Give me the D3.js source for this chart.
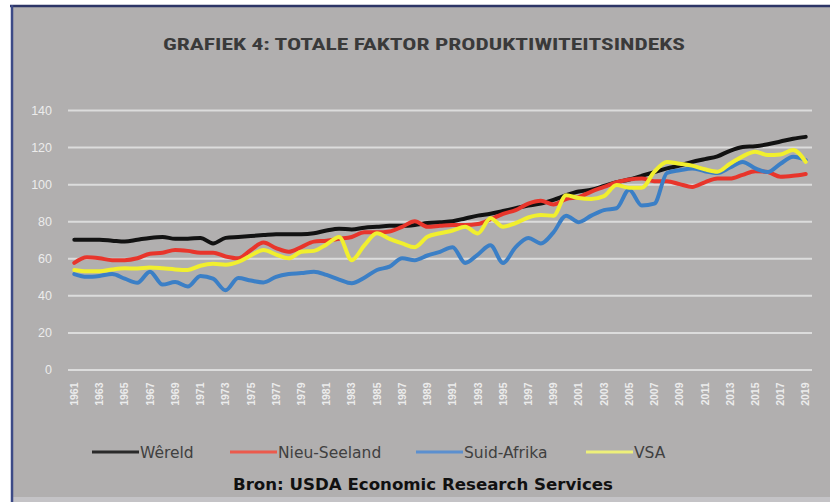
<!DOCTYPE html>
<html>
<head>
<meta charset="utf-8">
<script src="https://cdn.jsdelivr.net/npm/d3@7/dist/d3.min.js"></script>
<style>
  html, body { margin: 0; padding: 0; background: #ffffff; }
  svg { display: block; }
</style>
</head>
<body>
<svg id="chart" width="830" height="502"></svg>
<script>
// Totale faktor produktiwiteitsindeks, 1961–2019
const years = d3.range(1961, 2020);
const tickYears = d3.range(1961, 2020, 2);
const yTicks = [0, 20, 40, 60, 80, 100, 120, 140];

const wereld = [70, 70, 70, 69.5, 69, 70, 71, 71.5, 70.5, 70.5,
  71, 68, 71, 71.5, 72, 72.5, 73, 73, 73, 73.5,
  75, 76, 75.5, 76.5, 77, 77.5, 77.5, 78, 79, 79.5,
  80, 81.5, 83, 84, 85.5, 87, 88.5, 89.5, 91.5, 94,
  96, 97, 99, 101, 102.5, 104.5, 106.5, 108.5, 110, 112,
  113.5, 115, 118, 120, 120.5, 121.5, 123, 124.5, 125.5];

const nieuSeeland = [57.5, 60.5, 60, 59, 59, 60, 62.5, 63, 64.5, 64,
  63, 63, 61, 60, 64.5, 68.5, 65.5, 63.5, 66, 69,
  69.5, 70.5, 71.5, 74, 74, 74.5, 77, 80, 77, 77.5,
  78, 78, 78.5, 81, 84, 86, 89.5, 91, 89, 92,
  93, 96, 98.5, 101, 102.5, 103, 101.5, 101.5, 100, 98.5,
  101, 103, 103, 105, 107, 106.5, 104, 104.5, 105.5];

const suidAfrika = [51.5, 50, 50.5, 51.5, 49, 46.8, 52.8, 45.8, 47.2, 44.8,
  50.5, 49, 42.7, 49.3, 48, 47, 50, 51.5, 52, 52.8,
  51, 48.5, 46.5, 49.5, 53.7, 55.5, 60, 59, 61.5, 63.5,
  66, 57.5, 62, 67, 57.5, 66, 71, 68, 74, 83,
  79.5, 83, 86, 87, 97, 88.5, 89.5, 106, 107.5, 108.5,
  107, 106, 109, 112, 108.5, 106.5, 111, 114.8, 113];

const vsa = [53.7, 53, 53, 54, 54.6, 54.5, 55, 54.6, 54, 53.7,
  56, 57, 56.5, 58, 61.5, 64.5, 62, 60, 63.5, 64,
  67.5, 71.5, 59, 67, 73.5, 70.5, 68, 66, 71.6, 73.5,
  75, 77, 73.4, 81.6, 77, 79, 82, 83.3, 83, 94,
  92.5, 92, 93.5, 99.5, 98, 98, 106.7, 112, 111, 110,
  108, 106.7, 111, 115, 117.5, 115.7, 116, 118.4, 112];

const seriesNames = ["Wêreld", "Nieu-Seeland", "Suid-Afrika", "VSA"];
const seriesValues = [wereld, nieuSeeland, suidAfrika, vsa];
const seriesColors = ["#121212", "#e8352b", "#3b7fc6", "#f1ef2e"];
const legendColors = ["#2a2a2a", "#ec5a4c", "#5b8fcf", "#eef07a"];

const svg = d3.select("#chart");
const W = 830, H = 502;

// frame: white page, dark border, gray panel
svg.append("rect").attr("width", W).attr("height", H).attr("fill", "#ffffff");
svg.append("rect").attr("x", 12).attr("y", 5).attr("width", W - 12).attr("height", H - 5)
  .attr("fill", "#b1afaf");
svg.append("rect").attr("x", 12).attr("y", 497).attr("width", W - 12).attr("height", 5)
  .attr("fill", "#c4c3c6");
svg.append("line").attr("x1", 10).attr("x2", W).attr("y1", 6).attr("y2", 6)
  .attr("stroke", "#2c3566").attr("stroke-width", 2.5);
svg.append("line").attr("x1", 12).attr("x2", 12).attr("y1", 5).attr("y2", H)
  .attr("stroke", "#3c4a86").attr("stroke-width", 2.5);

const plot = { left: 68, right: 812, top: 110, bottom: 369.5 };

const x = d3.scaleBand().domain(years).range([plot.left, plot.right]).padding(0);
const xc = d => x(d) + x.bandwidth() / 2;
const y = d3.scaleLinear().domain([0, 140]).range([plot.bottom, plot.top]);

// title
svg.append("text")
  .attr("x", 424).attr("y", 50)
  .attr("text-anchor", "middle")
  .attr("font-family", "Liberation Sans Narrow, Roboto Condensed, Liberation Sans, sans-serif")
  .attr("font-weight", "bold")
  .attr("font-size", 16)
  .attr("textLength", 522)
  .attr("lengthAdjust", "spacingAndGlyphs")
  .attr("fill", "#3a3a3a")
  .text("GRAFIEK 4: TOTALE FAKTOR PRODUKTIWITEITSINDEKS");

// gridlines and y labels
const yAxis = svg.append("g")
  .attr("transform", `translate(${plot.left},0)`)
  .call(d3.axisLeft(y).tickValues(yTicks).tickSize(-(plot.right - plot.left)).tickPadding(16));
yAxis.select(".domain").remove();
yAxis.selectAll(".tick line").attr("stroke", "#dcdcdc").attr("stroke-width", 2);
yAxis.selectAll(".tick text")
  .attr("fill", "#ececec")
  .attr("font-family", "Liberation Sans, Arial, sans-serif")
  .attr("font-size", 12.5);

// x labels, rotated
const xAxis = svg.append("g")
  .attr("transform", `translate(0,${plot.bottom})`)
  .call(d3.axisBottom(x).tickValues(tickYears).tickSize(0).tickPadding(0));
xAxis.select(".domain").remove();
xAxis.selectAll(".tick text")
  .attr("fill", "#ececec")
  .attr("font-family", "Liberation Sans, Arial, sans-serif")
  .attr("font-weight", "bold")
  .attr("font-size", 10.5)
  .attr("text-anchor", "end")
  .attr("dy", "0.35em")
  .attr("transform", "translate(0,13) rotate(-90)")
  .attr("x", 0).attr("y", 0);

// series lines
const line = d3.line()
  .x((d, i) => xc(years[i]))
  .y(d => y(d))
  .curve(d3.curveMonotoneX);

const lines = svg.append("g");
seriesValues.forEach((vals, k) => {
  lines.append("path")
    .datum(vals)
    .attr("fill", "none")
    .attr("stroke", seriesColors[k])
    .attr("stroke-width", 4)
    .attr("stroke-linejoin", "round")
    .attr("stroke-linecap", "round")
    .attr("d", line);
});

// legend
const legendX = [92, 230, 416, 586];
const legend = svg.append("g");
seriesNames.forEach((name, k) => {
  const g = legend.append("g").attr("transform", `translate(${legendX[k]},452)`);
  g.append("line").attr("x1", 0).attr("x2", 47).attr("y1", 0).attr("y2", 0)
    .attr("stroke", legendColors[k]).attr("stroke-width", 3);
  g.append("text").attr("x", 48).attr("y", 5.5)
    .attr("font-family", "DejaVu Sans, sans-serif")
    .attr("font-size", 15.5)
    .attr("fill", "#404040")
    .text(name);
});

// source note
svg.append("text")
  .attr("x", 423).attr("y", 490)
  .attr("text-anchor", "middle")
  .attr("font-family", "DejaVu Sans, sans-serif")
  .attr("font-weight", "bold")
  .attr("font-size", 16)
  .attr("textLength", 380)
  .attr("lengthAdjust", "spacingAndGlyphs")
  .attr("fill", "#111111")
  .text("Bron: USDA Economic Research Services");
</script>
</body>
</html>
